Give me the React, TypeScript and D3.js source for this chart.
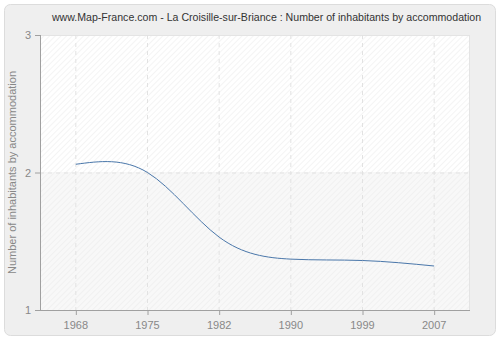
import React from "react";
import * as d3 from "d3";

const years = ["1968", "1975", "1982", "1990", "1999", "2007"];
const values = [2.06, 2.0, 1.53, 1.37, 1.36, 1.32];
const yTicks = [1, 2, 3];

const title = "www.Map-France.com - La Croisille-sur-Briance : Number of inhabitants by accommodation";
const yLabel = "Number of inhabitants by accommodation";

export default function App() {
  const W = 500, H = 340;
  const left = 40, right = 470, top = 35, bottom = 310;
  const x = d3.scalePoint<string>().domain(years).range([left, right]).padding(0.5);
  const y = d3.scaleLinear().domain([1, 3]).range([bottom, top]);
  const line = d3
    .line<number>()
    .x((_, i) => x(years[i]) as number)
    .y((d) => y(d))
    .curve(d3.curveNatural);
  const font = "'Liberation Sans', Arial, sans-serif";
  return (
    <svg width={W} height={H} style={{ position: "absolute", left: 0, top: 0 }}>
      <defs>
        <pattern id="hatch" width="4" height="4" patternUnits="userSpaceOnUse" patternTransform="rotate(45)">
          <line x1="0" y1="0" x2="0" y2="4" stroke="#e9e9e9" strokeWidth="1" />
        </pattern>
      </defs>
      <rect x={4.5} y={4.5} width={491} height={331} rx={6} fill="#efefef" stroke="#dcdcdc" />
      <rect x={left} y={top} width={right - left} height={y(2) - top} fill="#ffffff" />
      <rect x={left} y={y(2)} width={right - left} height={bottom - y(2)} fill="#f8f8f8" />
      <rect x={left} y={top} width={right - left} height={bottom - top} fill="url(#hatch)" />
      <rect x={left + 0.5} y={top + 0.5} width={right - left - 1} height={bottom - top} fill="none" stroke="#e4e4e4" />
      {years.map((yr) => (
        <line key={yr} x1={x(yr)} x2={x(yr)} y1={top} y2={bottom} stroke="#e2e2e2" strokeDasharray="4,4" />
      ))}
      {yTicks.slice(1, 2).map((t) => (
        <line key={t} x1={left} x2={right} y1={y(t) + 0.5} y2={y(t) + 0.5} stroke="#e2e2e2" strokeDasharray="4,4" />
      ))}
      <path d={line(values) || ""} fill="none" stroke="#4a77aa" strokeWidth={1} />
      <line x1={left + 0.5} x2={left + 0.5} y1={top} y2={bottom} stroke="#a0a0a0" />
      <line x1={left} x2={right} y1={bottom + 0.5} y2={bottom + 0.5} stroke="#a0a0a0" />
      {yTicks.map((t) => (
        <g key={t}>
          <line x1={left - 5} x2={left} y1={y(t) + 0.5} y2={y(t) + 0.5} stroke="#a0a0a0" />
          <text x={left - 9} y={y(t) + 4} textAnchor="end" fontSize={11} fill="#888" fontFamily={font}>
            {t}
          </text>
        </g>
      ))}
      {years.map((yr) => (
        <g key={yr}>
          <line x1={(x(yr) as number) + 0.5} x2={(x(yr) as number) + 0.5} y1={bottom} y2={bottom + 5} stroke="#a0a0a0" />
          <text x={x(yr)} y={bottom + 19} textAnchor="middle" fontSize={11} fill="#888" fontFamily={font}>
            {yr}
          </text>
        </g>
      ))}
      <text x={266.5} y={21} textAnchor="middle" fontSize={10.6} fill="#333" fontFamily={font}>
        {title}
      </text>
      <text
        transform={`translate(16,${(top + bottom) / 2}) rotate(-90)`}
        textAnchor="middle"
        fontSize={11}
        fill="#888"
        fontFamily={font}
      >
        {yLabel}
      </text>
    </svg>
  );
}
